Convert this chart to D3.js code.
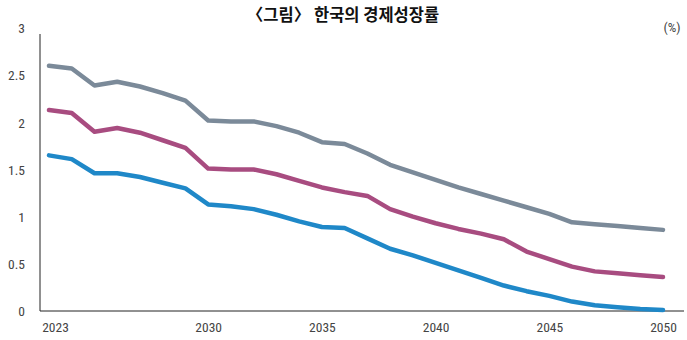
<!DOCTYPE html>
<html>
<head>
<meta charset="utf-8">
<script src="https://cdn.jsdelivr.net/npm/d3@7"></script>
<style>
  html, body { margin: 0; padding: 0; background: #fff; }
  svg { display: block; }
  .tick-label { font-family: "Liberation Sans Narrow", "Roboto Condensed", "Liberation Sans", sans-serif; font-size: 13.5px; fill: #444; }
</style>
</head>
<body>
<svg id="chart" width="687" height="340"></svg>
<script>
// Korea's economic growth rate outlook (%), three scenarios, 2023–2050
const years = d3.range(2023, 2051);
const optimistic = [2.60, 2.57, 2.39, 2.43, 2.38, 2.31, 2.23, 2.02,
                    2.01, 2.01, 1.96, 1.89, 1.79, 1.77, 1.67,
                    1.55, 1.47, 1.39, 1.31, 1.24, 1.17, 1.10,
                    1.03, 0.94, 0.92, 0.90, 0.88, 0.86];
const baseline   = [2.13, 2.10, 1.90, 1.94, 1.89, 1.81, 1.73, 1.51,
                    1.50, 1.50, 1.45, 1.38, 1.31, 1.26, 1.22,
                    1.08, 1.00, 0.93, 0.87, 0.82, 0.76, 0.63,
                    0.55, 0.47, 0.42, 0.40, 0.38, 0.36];
const pessimistic = [1.65, 1.61, 1.46, 1.46, 1.42, 1.36, 1.30, 1.13,
                     1.11, 1.08, 1.02, 0.95, 0.89, 0.88, 0.77,
                     0.66, 0.59, 0.51, 0.43, 0.35, 0.27, 0.21,
                     0.16, 0.10, 0.06, 0.04, 0.02, 0.01];
const xTicks = [2023, 2030, 2035, 2040, 2045, 2050];
const yTicks = [0, 0.5, 1, 1.5, 2, 2.5, 3];

const series = [
  { values: optimistic,  color: "#7b8a99" },
  { values: baseline,    color: "#a84c80" },
  { values: pessimistic, color: "#1f88c8" }
];

const svg = d3.select("#chart");
const axisLeftX = 40, axisRightX = 684;
const x = d3.scaleLinear().domain([2023, 2050]).range([49, 663]);
const y = d3.scaleLinear().domain([0, 3]).range([311, 28]);

// title
svg.append("text")
  .attr("x", 343).attr("y", 21)
  .attr("text-anchor", "middle")
  .style("font-family", "'Noto Sans CJK KR', sans-serif")
  .style("font-weight", "700")
  .style("font-size", "16.5px")
  .style("fill", "#111")
  .text("〈그림〉 한국의 경제성장률");

// unit
svg.append("text")
  .attr("class", "tick-label")
  .attr("x", 672).attr("y", 32)
  .attr("text-anchor", "middle")
  .text("(%)");

// y axis: labels only, plus a plain vertical rule
const yAxis = d3.axisLeft(y).tickValues(yTicks).tickSize(0).tickPadding(0)
  .tickFormat(d => String(d));
const gy = svg.append("g").attr("transform", `translate(25,0)`).call(yAxis);
gy.select(".domain").remove();
gy.selectAll("text").attr("class", "tick-label").attr("fill", null).attr("dy", "0.35em");

svg.append("line")
  .attr("x1", axisLeftX).attr("x2", axisLeftX)
  .attr("y1", 34).attr("y2", y(0))
  .attr("stroke", "#222").attr("stroke-width", 1);

// x axis
const xAxis = d3.axisBottom(x).tickValues(xTicks).tickSize(0).tickPadding(11)
  .tickFormat(d3.format("d"));
const gx = svg.append("g").attr("transform", `translate(0,${y(0)})`).call(xAxis);
gx.select(".domain").remove();
gx.selectAll("text").attr("class", "tick-label").attr("fill", null)
  .attr("dx", d => d === 2023 ? 6 : 0);

svg.append("line")
  .attr("x1", axisLeftX).attr("x2", axisRightX)
  .attr("y1", y(0)).attr("y2", y(0))
  .attr("stroke", "#222").attr("stroke-width", 1);

// lines
const line = d3.line()
  .x((d, i) => x(years[i]))
  .y(d => y(d));

svg.selectAll("path.series")
  .data(series)
  .join("path")
  .attr("class", "series")
  .attr("d", s => line(s.values))
  .attr("fill", "none")
  .attr("stroke", s => s.color)
  .attr("stroke-width", 4.5)
  .attr("stroke-linejoin", "round")
  .attr("stroke-linecap", "round");
</script>
</body>
</html>
